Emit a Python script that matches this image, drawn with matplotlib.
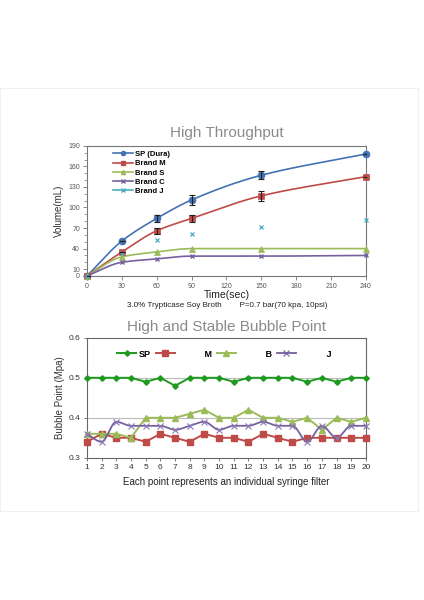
import numpy as np
import matplotlib
matplotlib.use("Agg")
import matplotlib.pyplot as plt
from matplotlib.lines import Line2D
from matplotlib.patches import Rectangle

plt.rcParams["font.family"] = ["Liberation Sans", "DejaVu Sans"]

# ---------------- data: throughput ----------------
time_sec = [0, 30, 60, 90, 150, 240]
vol_sp = [0, 51, 84, 111, 147, 178]
vol_m = [0, 35, 66, 84, 117, 145]
vol_s = [0, 28, 35, 40, 40, 40]
vol_c = [0, 20, 25, 29, 29, 30]
vol_j = [0, 33, 53, 61, 71, 82]
err_sp = [0, 0, 4.5, 7, 5.5, 0]
err_m = [0, 0, 4, 5, 7, 0]

# ---------------- data: bubble point ----------------
filter_no = list(range(1, 21))
bp_sp = [0.50, 0.50, 0.50, 0.50, 0.49, 0.50, 0.48, 0.50, 0.50, 0.50,
         0.49, 0.50, 0.50, 0.50, 0.50, 0.49, 0.50, 0.49, 0.50, 0.50]
bp_m = [0.34, 0.36, 0.35, 0.35, 0.34, 0.36, 0.35, 0.34, 0.36, 0.35,
        0.35, 0.34, 0.36, 0.35, 0.34, 0.35, 0.35, 0.35, 0.35, 0.35]
bp_b = [0.36, 0.36, 0.36, 0.35, 0.40, 0.40, 0.40, 0.41, 0.42, 0.40,
        0.40, 0.42, 0.40, 0.40, 0.39, 0.40, 0.37, 0.40, 0.39, 0.40]
bp_j = [0.36, 0.34, 0.39, 0.38, 0.38, 0.38, 0.37, 0.38, 0.39, 0.37,
        0.38, 0.38, 0.39, 0.38, 0.38, 0.34, 0.38, 0.35, 0.38, 0.38]


def smooth(x, y, n=30):
    # curva suave (Hermite monotona) solo para el trazo
    x = np.asarray(x, float)
    y = np.asarray(y, float)
    h = np.diff(x)
    d = np.diff(y) / h
    m = np.zeros_like(y)
    m[0], m[-1] = d[0], d[-1]
    for k in range(1, len(x) - 1):
        if d[k - 1] * d[k] <= 0:
            m[k] = 0
        else:
            w1, w2 = 2 * h[k] + h[k - 1], h[k] + 2 * h[k - 1]
            m[k] = (w1 + w2) / (w1 / d[k - 1] + w2 / d[k])
    xs, ys = [], []
    for k in range(len(x) - 1):
        t = np.linspace(0, 1, n, endpoint=(k == len(x) - 2))
        h00 = 2 * t**3 - 3 * t**2 + 1
        h10 = t**3 - 2 * t**2 + t
        h01 = -2 * t**3 + 3 * t**2
        h11 = t**3 - t**2
        xs.append(x[k] + t * h[k])
        ys.append(h00 * y[k] + h10 * h[k] * m[k] + h01 * y[k + 1] + h11 * h[k] * m[k + 1])
    return np.concatenate(xs), np.concatenate(ys)


fig = plt.figure(figsize=(4.24, 6.0), dpi=100)
fig.patches.append(Rectangle((0.0, 0.148), 0.985, 0.705, transform=fig.transFigure,
                             fill=False, edgecolor="#f0f0f0", linewidth=0.8))

spine_c = "#777777"
tick_c = "#555555"

# ======================================================
# 1. High Throughput
# ======================================================
ax1 = fig.add_axes([0.205, 0.54, 0.658, 0.217])
series = [
    ("SP (Dura)", vol_sp, "#4473B4", "o", 5),
    ("Brand M", vol_m, "#BE4B48", "s", 5),
    ("Brand S", vol_s, "#9BBB59", "^", 5),
    ("Brand C", vol_c, "#7560A0", "x", 3.5),
]
for name, vals, col, mk, ms in series:
    xs, ys = smooth(time_sec, vals)
    ax1.plot(xs, ys, color=col, lw=1.2, zorder=3, clip_on=False)
    ax1.plot(time_sec, vals, linestyle="none", marker=mk, ms=ms, color=col,
             mew=1 if mk == "x" else 0.5, zorder=4, clip_on=False)
ax1.errorbar(time_sec, vol_sp, yerr=err_sp, fmt="none", ecolor="#222222",
             elinewidth=0.8, capsize=2, capthick=0.8, zorder=5)
ax1.errorbar(time_sec, vol_m, yerr=err_m, fmt="none", ecolor="#222222",
             elinewidth=0.8, capsize=2, capthick=0.8, zorder=5)
ax1.plot(time_sec, vol_j, linestyle="none", marker="x", ms=3.5, mew=0.9,
         color="#4BACC6", zorder=4, clip_on=False)

ax1.set_xlim(0, 240)
ax1.set_ylim(0, 190)
ax1.set_xticks([0, 30, 60, 90, 120, 150, 180, 210, 240])
ax1.set_yticks([0, 10, 40, 70, 100, 130, 160, 190])
ax1.set_yticks(range(0, 191, 10), minor=True)
ax1.tick_params(axis="both", labelsize=5, colors=spine_c, labelcolor=tick_c,
                length=3, width=0.6, pad=2)
ax1.tick_params(axis="y", which="minor", length=2, width=0.5, colors=spine_c)
for sp in ax1.spines.values():
    sp.set_color(spine_c)
    sp.set_linewidth(0.8)
ax1.set_xlabel("Time(sec)", fontsize=7.5, color="#222222", labelpad=0)
ax1.set_ylabel("Volume(mL)", fontsize=7, color="#333333", labelpad=3)
ax1.set_title("High Throughput", fontsize=11, color="#8a8a8a", pad=6)

handles1 = [
    Line2D([], [], color="#4473B4", lw=1.2, marker="o", ms=3),
    Line2D([], [], color="#BE4B48", lw=1.2, marker="s", ms=3),
    Line2D([], [], color="#9BBB59", lw=1.2, marker="^", ms=3),
    Line2D([], [], color="#7560A0", lw=1.2, marker="x", ms=2.5),
    Line2D([], [], color="#4BACC6", lw=1.2, marker="x", ms=2.5),
]
labels1 = ["SP (Dura)", "Brand M", "Brand S", "Brand C", "Brand J"]
ax1.legend(handles1, labels1, loc="upper left", bbox_to_anchor=(0.075, 1.0),
           frameon=False, prop={"size": 5.5, "weight": "bold"},
           handlelength=2.6, handletextpad=0.3, labelspacing=0.25,
           borderaxespad=0.25)

fig.text(0.535, 0.4915, "3.0% Trypticase Soy Broth        P=0.7 bar(70 kpa, 10psi)",
         ha="center", va="center", fontsize=5.8, color="#222222")

# ======================================================
# 2. High and Stable Bubble Point
# ======================================================
ax2 = fig.add_axes([0.205, 0.237, 0.658, 0.2])
ax2.axhline(0.4, color="#bbbbbb", lw=0.8, zorder=1)
ax2.axhline(0.5, color="#bbbbbb", lw=0.8, zorder=1)

l_sp, = ax2.plot(filter_no, bp_sp, color="#1E9A1E", lw=1.4, marker="D", ms=2.8,
                 zorder=5, clip_on=False)
l_m, = ax2.plot(filter_no, bp_m, color="#BE4B48", lw=1.4, marker="s", ms=4.5,
                zorder=3, clip_on=False)
l_b, = ax2.plot(filter_no, bp_b, color="#9BBB59", lw=1.4, marker="^", ms=4.5,
                zorder=4, clip_on=False)
xs_j, ys_j = smooth(filter_no, bp_j, n=15)
ax2.plot(xs_j, ys_j, color="#7560A0", lw=1.3, zorder=4, clip_on=False)
ax2.plot(filter_no, bp_j, linestyle="none", color="#8A78B0", marker="x", ms=4,
         mew=0.8, zorder=4, clip_on=False)
l_j = Line2D([], [], color="#7560A0", lw=1.3, marker="x", ms=4, mew=0.8)

ax2.set_xlim(1, 20)
ax2.set_ylim(0.3, 0.6)
ax2.set_xticks(filter_no)
ax2.set_yticks([0.3, 0.4, 0.5, 0.6])
ax2.set_yticklabels(["0.3", "0.4", "0.5", "0.6"])
ax2.tick_params(axis="both", labelsize=6, colors="#666666", labelcolor="#333333",
                length=2.5, width=0.6, pad=2)
for sp in ax2.spines.values():
    sp.set_color("#666666")
    sp.set_linewidth(0.8)
ax2.set_xlabel("Each point represents an individual syringe filter", fontsize=7,
               color="#222222", labelpad=4)
ax2.set_ylabel("Bubble Point (Mpa)", fontsize=7, color="#333333", labelpad=3)
ax2.set_title("High and Stable Bubble Point", fontsize=11, color="#8a8a8a", pad=5)

ax2.legend([l_sp, l_m, l_b, l_j],
           ["SP", "           M", "           B", "           J"],
           loc="upper left", bbox_to_anchor=(0.08, 0.97), ncol=4, frameon=False,
           prop={"size": 6.5, "weight": "bold"}, handlelength=2.1,
           handletextpad=0.3, columnspacing=0.5)

fig.savefig("out.png", dpi=100, facecolor="white")
